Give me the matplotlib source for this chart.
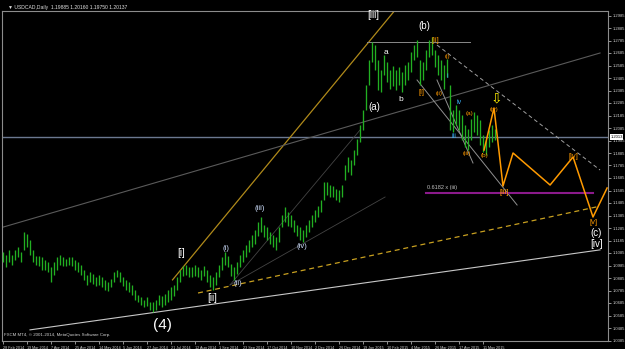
import matplotlib
matplotlib.use('Agg')
import matplotlib.pyplot as plt

# every second daily bar of USDCAD (MT4 bar index, 1 bar = 1.5 px)
bar_idx = list(range(0, 330, 2))
bar_high = [
    1.109, 1.107, 1.111, 1.107, 1.111, 1.113, 1.109, 1.125, 1.124, 1.119,
    1.111, 1.106, 1.106, 1.105, 1.103, 1.101, 1.097, 1.101, 1.105, 1.107,
    1.105, 1.104, 1.105, 1.105, 1.103, 1.101, 1.099, 1.095, 1.091, 1.093,
    1.092, 1.089, 1.091, 1.089, 1.087, 1.085, 1.088, 1.093, 1.095, 1.093,
    1.089, 1.087, 1.085, 1.083, 1.079, 1.075, 1.073, 1.071, 1.073, 1.069,
    1.069, 1.071, 1.075, 1.074, 1.076, 1.079, 1.081, 1.083, 1.089, 1.095,
    1.098, 1.099, 1.097, 1.097, 1.099, 1.097, 1.095, 1.098, 1.095, 1.091,
    1.089, 1.093, 1.099, 1.105, 1.109, 1.106, 1.100, 1.097, 1.101, 1.107,
    1.111, 1.115, 1.119, 1.123, 1.127, 1.133, 1.137, 1.131, 1.129, 1.125,
    1.123, 1.121, 1.129, 1.139, 1.145, 1.141, 1.139, 1.135, 1.131, 1.129,
    1.127, 1.131, 1.135, 1.139, 1.143, 1.146, 1.151, 1.165, 1.165, 1.163,
    1.162, 1.160, 1.159, 1.163, 1.179, 1.185, 1.183, 1.191, 1.200, 1.211,
    1.223, 1.243, 1.263, 1.277, 1.275, 1.263, 1.255, 1.267, 1.261, 1.255,
    1.258, 1.255, 1.257, 1.253, 1.259, 1.261, 1.269, 1.275, 1.279, 1.263,
    1.261, 1.271, 1.279, 1.281, 1.271, 1.267, 1.263, 1.259, 1.264, 1.243,
    1.223, 1.227, 1.223, 1.219, 1.211, 1.208, 1.216, 1.221, 1.219, 1.215,
    1.203, 1.199, 1.207, 1.211, 1.208,
]
bar_low = [
    1.101, 1.097, 1.101, 1.099, 1.103, 1.105, 1.101, 1.111, 1.113, 1.107,
    1.101, 1.099, 1.098, 1.095, 1.095, 1.093, 1.085, 1.091, 1.095, 1.099,
    1.098, 1.098, 1.099, 1.098, 1.095, 1.093, 1.091, 1.087, 1.083, 1.085,
    1.084, 1.082, 1.083, 1.081, 1.079, 1.078, 1.081, 1.085, 1.089, 1.085,
    1.082, 1.079, 1.077, 1.075, 1.071, 1.069, 1.067, 1.065, 1.066, 1.063,
    1.061, 1.063, 1.067, 1.065, 1.067, 1.069, 1.071, 1.074, 1.079, 1.085,
    1.090, 1.091, 1.089, 1.089, 1.090, 1.089, 1.087, 1.090, 1.085, 1.081,
    1.079, 1.083, 1.089, 1.095, 1.099, 1.097, 1.090, 1.087, 1.092, 1.097,
    1.101, 1.105, 1.109, 1.113, 1.116, 1.122, 1.125, 1.121, 1.119, 1.116,
    1.113, 1.111, 1.117, 1.129, 1.133, 1.130, 1.129, 1.125, 1.122, 1.119,
    1.117, 1.121, 1.125, 1.129, 1.133, 1.137, 1.141, 1.151, 1.155, 1.153,
    1.153, 1.151, 1.149, 1.153, 1.167, 1.173, 1.171, 1.179, 1.187, 1.197,
    1.207, 1.223, 1.243, 1.261, 1.255, 1.239, 1.237, 1.251, 1.245, 1.240,
    1.242, 1.239, 1.243, 1.237, 1.243, 1.247, 1.253, 1.263, 1.265, 1.243,
    1.247, 1.255, 1.265, 1.267, 1.257, 1.251, 1.247, 1.240, 1.249, 1.207,
    1.205, 1.211, 1.207, 1.199, 1.193, 1.191, 1.199, 1.205, 1.203, 1.195,
    1.189, 1.187, 1.193, 1.197, 1.199,
]

date_pos = list(range(0, 321, 16))
date_labels = ['28 Feb 2014', '19 Mar 2014', '7 Apr 2014', '25 Apr 2014', '14 May 2014',
               '5 Jun 2014', '27 Jun 2014', '21 Jul 2014', '12 Aug 2014', '1 Sep 2014',
               '23 Sep 2014', '17 Oct 2014', '10 Nov 2014', '2 Dec 2014', '26 Dec 2014',
               '19 Jan 2015', '10 Feb 2015', '4 Mar 2015', '26 Mar 2015', '17 Apr 2015',
               '11 May 2015']
price_ticks = [round(1.0385 + 0.01 * k, 4) for k in range(27)]
last_price = 1.2013

# trendlines drawn on the chart: ([bar, bar], [price, price])
gold_line = ([113, 267], [1.087, 1.311])
gold_dash = ([130, 398], [1.0765, 1.146])
white_line = ([18, 398], [1.047, 1.111])
gray_upper = ([-2, 398], [1.1285, 1.2685])
thin_a = ([151.3, 238], [1.0829, 1.2069])
thin_b = ([151.3, 254.7], [1.0829, 1.1533])
top_flat = ([242.7, 311.3], [1.2773, 1.2773])
down_solid1 = ([276, 342.7], [1.2469, 1.1469])
down_solid2 = ([289.3, 313.3], [1.2469, 1.1805])
down_dash1 = ([289.3, 398], [1.2749, 1.1749])
fib_line = ([282, 393.3], [1.1565, 1.1565])

# projected path (orange zigzag)
proj_x = [320.7, 327.3, 333.3, 340, 364.7, 380, 393.3, 402.7]
proj_y = [1.1909, 1.2245, 1.1621, 1.1885, 1.1629, 1.1853, 1.1373, 1.1605]

WHITE = '#ffffff'
ORANGE = '#ff9a00'
CYAN = '#3ab4ff'
LBLUE = '#cfe0ff'
wave_labels = [
    ('(4)', 106, 1.0509, WHITE, 11),
    ('[i]', 118.7, 1.1085, WHITE, 7),
    ('[ii]', 139.3, 1.0725, WHITE, 7),
    ('(i)', 148.7, 1.1125, LBLUE, 5.5),
    ('(ii)', 156.7, 1.0837, LBLUE, 5.5),
    ('(iii)', 171.3, 1.1437, LBLUE, 5.5),
    ('(iv)', 199.3, 1.1133, LBLUE, 5.5),
    ('[iii]', 246.7, 1.2989, WHITE, 7),
    ('(a)', 247.3, 1.2253, WHITE, 7),
    ('a', 255.3, 1.2685, WHITE, 6),
    ('b', 265.3, 1.2309, WHITE, 6),
    ('(b)', 280.7, 1.2901, WHITE, 7),
    ('[i]', 278.7, 1.2365, ORANGE, 5.5),
    ('[ii]', 288, 1.2781, ORANGE, 5.5),
    ('(i)', 296, 1.2653, ORANGE, 4.5),
    ('i', 296, 1.2501, CYAN, 5),
    ('(ii)', 290.7, 1.2365, ORANGE, 4.5),
    ('iv', 304, 1.2293, CYAN, 5),
    ('iii', 300.7, 1.2021, CYAN, 5),
    ('(a)', 311.3, 1.2205, ORANGE, 4.5),
    ('(iii)', 309.3, 1.1877, ORANGE, 4.5),
    ('(b)', 320.7, 1.1869, ORANGE, 4.5),
    ('(iv)', 327.3, 1.2229, ORANGE, 4.5),
    ('[iii]', 334, 1.1573, ORANGE, 5.5),
    ('[iv]', 380, 1.1861, ORANGE, 5.5),
    ('[v]', 394, 1.1333, ORANGE, 5.5),
    ('(c)', 395.3, 1.1245, WHITE, 7),
    ('[iv]', 396, 1.1157, WHITE, 7),
]


def plot_chart(output_filename='out.png'):
    plt.rcParams['font.family'] = ['Liberation Sans', 'DejaVu Sans']
    fig = plt.figure(figsize=(6.25, 3.49), dpi=100, facecolor='black')
    ax = fig.add_axes([2 / 625, 8 / 349, 606 / 625, 330 / 349], facecolor='black')

    ax.set_xlim(-0.67, 403.3)
    ax.set_ylim(1.0381, 1.3021)

    # candles
    ax.vlines(bar_idx, bar_low, bar_high, color='#22b022', linewidth=0.95, zorder=3)

    ax.axhline(last_price, color='#6b7890', linewidth=1, zorder=2)

    ax.plot(*gold_line, color='#b08a1a', linewidth=0.9, zorder=2)
    ax.plot(*gold_dash, color='#c8a020', linewidth=0.9, linestyle=(0, (4, 3)), zorder=2)
    ax.plot(*white_line, color='#c8c8c8', linewidth=0.8, zorder=2)
    ax.plot(*gray_upper, color='#5a5a5a', linewidth=0.8, zorder=2)
    ax.plot(*thin_a, color='#444444', linewidth=0.6, zorder=2)
    ax.plot(*thin_b, color='#444444', linewidth=0.6, zorder=2)
    ax.plot(*top_flat, color='#8a8a8a', linewidth=0.7, zorder=2)
    ax.plot(*down_solid1, color='#909090', linewidth=0.7, zorder=2)
    ax.plot(*down_solid2, color='#909090', linewidth=0.7, zorder=2)
    ax.plot(*down_dash1, color='#a0a0a0', linewidth=0.7, linestyle=(0, (4, 3)), zorder=2)
    ax.plot(*fib_line, color='#8b1a8b', linewidth=1.5, zorder=2)
    ax.text(fib_line[0][0] + 11, fib_line[1][0] + 0.002, '0.6182 x (iii)',
            color='#c0c0c0', fontsize=4, ha='center', va='bottom', zorder=5)

    ax.plot(proj_x, proj_y, color=ORANGE, linewidth=1.1, zorder=4)

    for txt, x, y, col, size in wave_labels:
        ax.text(x, y, txt, color=col, fontsize=size, ha='center', va='center', zorder=6)

    ax.text(328.7, 1.2325, '\u21e9', color='#ffee00', fontsize=10, ha='center', va='center',
            family='DejaVu Sans', zorder=6)

    # axes look like the MT4 window
    for side in ['top', 'left', 'bottom', 'right']:
        ax.spines[side].set_color('#8c8c8c')
        ax.spines[side].set_linewidth(0.8)
    ax.yaxis.tick_right()
    ax.set_yticks(price_ticks)
    ax.set_yticklabels([f'{v:.4f}' for v in price_ticks])
    ax.set_xticks(date_pos)
    ax.set_xticklabels(date_labels, ha='left')
    ax.tick_params(colors='#d0d0d0', labelsize=3.0, length=2, width=0.5, pad=1.5)
    ax.tick_params(axis='x', labelsize=2.7)

    ax.text(1.004, (last_price - 1.0381) / (1.3021 - 1.0381), '1.2013', transform=ax.transAxes,
            fontsize=3.0, color='black', va='center', ha='left',
            bbox=dict(boxstyle='square,pad=0.15', fc='white', ec='none'), zorder=7)

    fig.text(0.012, 0.985, '\u25bc USDCAD,Daily  1.19885 1.20160 1.19750 1.20137', color='#e0e0e0',
             fontsize=3.6, va='top', ha='left', family=['Liberation Sans', 'DejaVu Sans'])
    ax.text(0.003, 0.012, 'FXCM MT4, \u00a9 2001-2014, MetaQuotes Software Corp.', transform=ax.transAxes,
            color='#d0d0d0', fontsize=3.2, va='bottom', ha='left')

    fig.savefig(output_filename, dpi=100, facecolor='black')


if __name__ == "__main__":
    plot_chart()
